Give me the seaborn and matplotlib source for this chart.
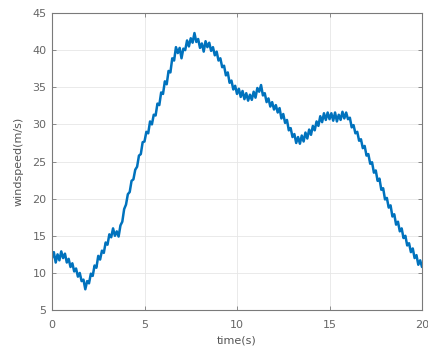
import numpy as np
import pandas as pd
import matplotlib
matplotlib.use("Agg")
import matplotlib.pyplot as plt
import seaborn as sns

# time axis (s), sampled every 0.1 s
time_s = np.round(np.arange(201) * 0.1, 1)

# wind speed (m/s)
windspeed = [
    12.0,
    12.8, 11.4, 12.5, 11.7, 12.9, 12.0, 12.6, 11.4, 11.9, 10.8,
    11.3, 10.2, 10.6, 9.5, 10.0, 8.9, 9.1, 7.8, 8.9, 8.6,
    9.9, 9.6, 11.0, 10.7, 12.3, 11.8, 13.0, 12.7, 14.1, 13.8,
    15.2, 14.8, 16.0, 15.0, 15.6, 14.9, 16.4, 16.9, 18.6, 19.2,
    20.6, 20.9, 22.4, 22.6, 23.9, 24.3, 25.8, 26.0, 27.6, 27.7,
    29.0, 28.8, 30.4, 30.0, 31.3, 31.2, 32.8, 32.6, 34.3, 34.1,
    35.8, 35.4, 37.2, 37.0, 38.9, 38.6, 40.4, 39.6, 40.3, 38.9,
    40.2, 40.0, 41.3, 40.5, 41.6, 41.0, 42.3, 41.1, 41.5, 40.3,
    40.9, 39.8, 41.2, 40.4, 41.0, 39.9, 40.4, 39.3, 39.8, 38.6,
    38.9, 37.7, 37.9, 36.6, 37.0, 35.6, 35.9, 34.7, 35.2, 34.1,
    34.8, 33.7, 34.5, 33.4, 34.2, 33.2, 34.0, 33.3, 34.4, 33.6,
    34.9, 34.4, 35.3, 33.9, 34.2, 33.0, 33.5, 32.4, 33.0, 32.0,
    32.6, 31.6, 32.2, 30.8, 31.4, 30.2, 30.6, 29.2, 29.5, 28.3,
    28.7, 27.5, 28.3, 27.4, 28.5, 27.7, 28.9, 28.1, 29.3, 28.6,
    29.8, 29.2, 30.4, 29.8, 31.1, 30.3, 31.5, 30.6, 31.6, 30.7,
    31.5, 30.5, 31.6, 30.4, 31.3, 30.6, 31.7, 30.8, 31.6, 30.7,
    30.9, 29.6, 29.9, 28.8, 29.0, 27.8, 28.0, 26.8, 27.1, 25.8,
    26.0, 24.7, 24.9, 23.5, 23.8, 22.4, 22.7, 21.2, 21.4, 19.9,
    20.1, 18.8, 19.1, 17.6, 17.9, 16.5, 16.9, 15.6, 16.0, 14.7,
    15.0, 13.7, 14.0, 12.8, 13.3, 12.0, 12.4, 11.1, 11.7, 10.8,
]

x_ticks = [0, 5, 10, 15, 20]
y_ticks = [5, 10, 15, 20, 25, 30, 35, 40, 45]

df = pd.DataFrame({"time": time_s, "windspeed": windspeed})

sns.set_theme(style="whitegrid")
plt.rcParams["font.family"] = ["DejaVu Sans"]

fig = plt.figure(figsize=(4.28, 3.56), dpi=100)
ax = fig.add_axes([0.1215, 0.129, 0.8645, 0.8345])

sns.lineplot(data=df, x="time", y="windspeed", ax=ax, color="#0072BD",
             linewidth=1.8, sort=False, estimator=None)

ax.set_xlim(0, 20)
ax.set_ylim(5, 45)
ax.set_xticks(x_ticks)
ax.set_yticks(y_ticks)
ax.set_xticklabels([str(v) for v in x_ticks])
ax.set_yticklabels([str(v) for v in y_ticks])

ax.grid(True, color="#e6e6e6", linewidth=0.6)
ax.set_facecolor("white")
for s in ax.spines.values():
    s.set_visible(True)
    s.set_color("#7a7a7a")
    s.set_linewidth(0.8)

ax.tick_params(axis="both", which="both", direction="in", length=3, width=0.6,
               color="#7a7a7a", labelsize=8, labelcolor="#666666",
               top=True, right=True, bottom=True, left=True)
ax.tick_params(axis="x", pad=7)
ax.tick_params(axis="y", pad=4)

ax.set_xlabel("time(s)", fontsize=8, color="#555555", labelpad=4)
ax.set_ylabel("windspeed(m/s)", fontsize=8, color="#555555", labelpad=6)

fig.savefig("out.png", dpi=100)
